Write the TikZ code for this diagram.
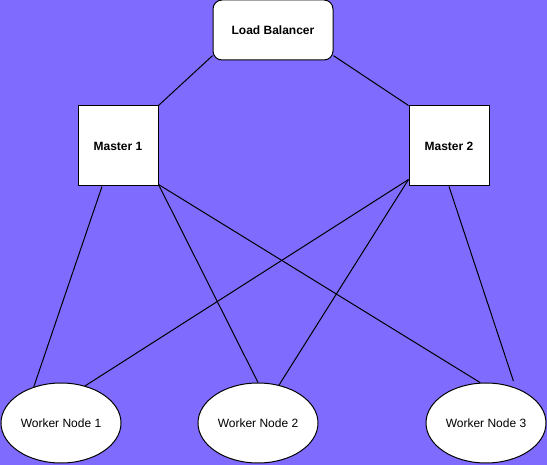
\documentclass[tikz,border=0pt]{standalone}
\usepackage{fontspec}
\setmainfont{Liberation Sans}
\usetikzlibrary{shapes.geometric,calc}
\definecolor{bgpurple}{RGB}{128,107,255}
\begin{document}
\begin{tikzpicture}[x=1pt,y=-1pt,
  box/.style={draw=black,line width=1pt,fill=white,minimum width=80pt,minimum height=80pt,inner sep=0pt,font=\fontsize{12}{14}\selectfont\bfseries},
  lbbox/.style={draw=black,line width=1pt,fill=white,rounded corners=9pt,minimum width=120pt,minimum height=60pt,inner sep=0pt,font=\fontsize{12}{14}\selectfont\bfseries},
  worker/.style={ellipse,draw=black,line width=1pt,fill=white,minimum width=120pt,minimum height=80pt,inner sep=0pt,font=\fontsize{12}{14}\selectfont},
  link/.style={draw=black,line width=1pt}]
\fill[bgpurple] (0,0) rectangle (547,465);
\useasboundingbox (0,0) rectangle (547,465);
\node[lbbox] (lb) at (273,30) {Load Balancer};
\node[box] (m1) at (118,146) {Master 1};
\node[box] (m2) at (449,146) {Master 2};
\node[worker] (wn1) at (61,423) {Worker Node 1};
\node[worker] (wn2) at (258,423) {Worker Node 2};
\node[worker] (wn3) at (486,423) {Worker Node 3};
\path[link] (lb.203) -- (m1.north east);
\path[link] (lb.-23) -- (m2.north west);
\path[link] ($(m1.south)+(-16,0)$) -- (wn1.127);
\path[link] ($(m1.south east)+(0,-2)$) -- (wn2.north);
\path[link] ($(m1.south east)+(0,-2)$) -- (wn3.98);
\path[link] ($(m2.south west)+(0,-7)$) -- (wn1.57);
\path[link] ($(m2.south west)+(0,-7)$) -- (wn2.61);
\path[link,shorten >=7pt] (m2.south) -- (wn3.50);
\end{tikzpicture}
\end{document}
